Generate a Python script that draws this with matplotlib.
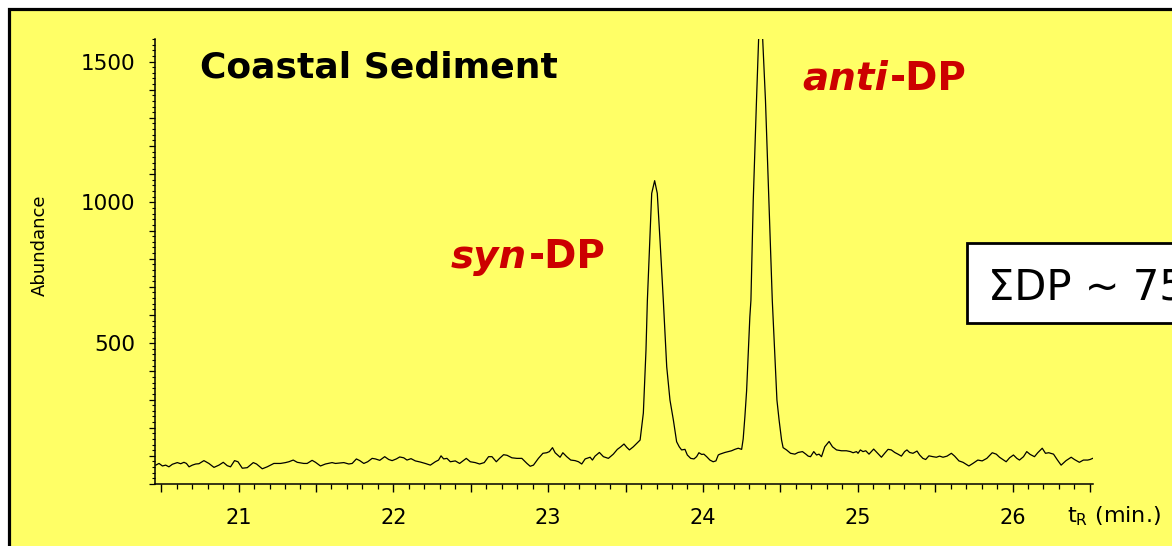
import matplotlib
matplotlib.use("Agg")
import matplotlib.pyplot as plt
from matplotlib.patches import Rectangle
from matplotlib.ticker import MultipleLocator, FuncFormatter

# GC-MS trace: retention time (min) vs abundance
rt_min = [
    # baseline 20.5 - 21.6
    20.465, 20.486, 20.508, 20.529, 20.550, 20.572, 20.604, 20.626, 20.647, 20.663,
    20.680, 20.701, 20.723, 20.744, 20.776, 20.808, 20.841, 20.873, 20.901, 20.927,
    20.948, 20.974, 20.996, 21.024, 21.056, 21.095, 21.116, 21.153, 21.185, 21.228,
    21.271, 21.303, 21.325, 21.353, 21.379, 21.421, 21.443, 21.475, 21.497, 21.529,
    21.561, 21.604, 21.626,
    # baseline 21.6 - 22.9
    21.658, 21.680, 21.712, 21.734, 21.761, 21.783, 21.809, 21.834, 21.863, 21.884,
    21.912, 21.944, 21.970, 21.992, 22.019, 22.041, 22.067, 22.088, 22.114, 22.142,
    22.174, 22.206, 22.239, 22.271, 22.292, 22.308, 22.325, 22.346, 22.368, 22.400,
    22.428, 22.450, 22.471, 22.497, 22.529, 22.557, 22.587, 22.615, 22.637, 22.665,
    22.686, 22.712, 22.734, 22.766, 22.798, 22.830, 22.863,
    # baseline 22.9 - 23.6
    22.884, 22.905, 22.937, 22.966, 22.991, 23.008, 23.028, 23.045, 23.077, 23.095,
    23.120, 23.146, 23.174, 23.196, 23.217, 23.239, 23.271, 23.286, 23.303, 23.331,
    23.357, 23.389, 23.421, 23.447, 23.469, 23.490, 23.508, 23.525, 23.550, 23.572,
    23.594,
    # syn-DP
    23.615, 23.632, 23.641, 23.658, 23.669, 23.688, 23.705, 23.723, 23.744, 23.766,
    23.787, 23.809, 23.830, 23.847, 23.862,
    # between peaks
    23.884, 23.899, 23.921, 23.942, 23.959, 23.974, 23.992, 24.006, 24.024, 24.045,
    24.066, 24.084, 24.099, 24.110, 24.142, 24.163, 24.185, 24.206, 24.228, 24.250,
    # anti-DP
    24.260, 24.271, 24.282, 24.303, 24.310, 24.325, 24.346, 24.371, 24.404, 24.426,
    24.448, 24.478, 24.492, 24.508, 24.518,
    # baseline 24.5 - 25.3
    24.540, 24.566, 24.594, 24.615, 24.643, 24.665, 24.680, 24.695, 24.716, 24.734,
    24.750, 24.766, 24.787, 24.815, 24.837, 24.863, 24.895, 24.927, 24.953, 24.970,
    24.992, 25.002, 25.017, 25.034, 25.052, 25.073, 25.103, 25.125, 25.153, 25.174,
    25.196, 25.217, 25.239, 25.260, 25.282, 25.303, 25.318,
    # baseline 25.3 - 26.5
    25.335, 25.357, 25.383, 25.400, 25.421, 25.439, 25.460, 25.486, 25.508, 25.529,
    25.551, 25.577, 25.605, 25.626, 25.654, 25.680, 25.718, 25.744, 25.776, 25.804,
    25.834, 25.869, 25.895, 25.916, 25.937, 25.959, 25.981, 26.006, 26.028, 26.045,
    26.071, 26.092, 26.114, 26.142, 26.163, 26.192, 26.213, 26.234, 26.265, 26.288,
    26.314, 26.346, 26.379, 26.400, 26.432, 26.458, 26.486, 26.501, 26.518,
]

abundance = [
    67, 73, 64, 67, 61, 70, 76, 72, 77, 73,
    61, 67, 71, 72, 83, 73, 59, 67, 77, 65,
    61, 83, 79, 56, 58, 76, 71, 54, 61, 73,
    73, 76, 79, 85, 77, 73, 73, 84, 77, 64,
    71, 76, 73,
    75, 76, 71, 73, 89, 83, 73, 79, 91, 89,
    84, 97, 87, 83, 89, 96, 93, 85, 90, 82,
    78, 73, 67, 79, 85, 100, 89, 91, 79, 82,
    73, 82, 91, 79, 76, 71, 76, 97, 97, 79,
    91, 104, 102, 93, 91, 91, 73,
    63, 67, 91, 109, 111, 115, 129, 111, 95, 111,
    97, 85, 83, 79, 71, 89, 95, 85, 99, 112,
    97, 91, 106, 123, 132, 142, 130, 121, 132, 144,
    156,
    252, 475, 652, 885, 1032, 1077, 1032, 862, 652, 416,
    298, 227, 150, 132, 121,
    123, 103, 91, 89, 97, 111, 105, 106, 97, 85,
    79, 82, 103, 106, 112, 115, 118, 123, 127, 123,
    160, 239, 330, 593, 652, 1007, 1362, 1760, 1362, 1007,
    652, 298, 227, 156, 129,
    121, 109, 106, 112, 115, 106, 99, 97, 115, 103,
    106, 97, 132, 151, 132, 121, 118, 118, 115, 111,
    115, 109, 121, 115, 118, 106, 124, 111, 95, 109,
    123, 121, 112, 106, 99, 115, 121,
    112, 109, 117, 103, 91, 87, 100, 97, 95, 99,
    95, 99, 109, 99, 82, 77, 64, 73, 85, 82,
    91, 111, 106, 95, 87, 79, 93, 103, 91, 85,
    97, 115, 105, 97, 111, 127, 109, 111, 106, 87,
    67, 83, 95, 87, 77, 85, 85, 87, 91,
]

y_labels = [500, 1000, 1500]
x_labels = [21, 22, 23, 24, 25, 26]

W, H = 1172, 546
YELLOW = "#FFFF66"
RED = "#CC0000"


def fx(x):
    return x / W


def fy(y):
    return 1 - y / H


fig = plt.figure(figsize=(W / 100, H / 100), dpi=100, facecolor="white")

# yellow slide panel with black border, kept behind the axes
fig.patches.append(Rectangle((fx(9), fy(600)), fx(1300), fy(9) - fy(600),
                             transform=fig.transFigure, facecolor=YELLOW,
                             edgecolor="black", linewidth=2.3, zorder=-5))

ax = fig.add_axes([fx(155), fy(484), fx(1093) - fx(155), fy(39) - fy(484)])
ax.patch.set_alpha(0)
ax.plot(rt_min, abundance, color="black", linewidth=0.9)

ax.set_xlim(20.46, 26.52)
ax.set_ylim(0, 1580)
for s in ["top", "right"]:
    ax.spines[s].set_visible(False)
for s in ["left", "bottom"]:
    ax.spines[s].set_linewidth(1.1)

ax.xaxis.set_major_locator(MultipleLocator(0.5))
ax.xaxis.set_minor_locator(MultipleLocator(0.1))
ax.xaxis.set_major_formatter(FuncFormatter(
    lambda v, p: str(int(round(v))) if round(v) in x_labels and abs(v - round(v)) < 1e-6 else ""))
ax.yaxis.set_major_locator(MultipleLocator(100))
ax.yaxis.set_minor_locator(MultipleLocator(20))
ax.yaxis.set_major_formatter(FuncFormatter(
    lambda v, p: str(int(round(v))) if int(round(v)) in y_labels else ""))

ax.tick_params(axis="x", which="major", direction="out", length=6, width=1,
               pad=11, labelsize=15)
ax.tick_params(axis="x", which="minor", direction="out", length=3.5, width=0.9)
ax.tick_params(axis="y", which="major", direction="out", length=4, width=0.9,
               pad=10, labelsize=15.5)
ax.tick_params(axis="y", which="minor", direction="out", length=2, width=0.8)

ax.set_ylabel("Abundance", fontsize=13)
ax.yaxis.set_label_coords(-0.113, 0.537)

fig.text(fx(1114), fy(516), r"t$_\mathrm{R}$ (min.)", fontsize=16,
         ha="center", va="center")

fig.text(fx(200), fy(78), "Coastal Sediment", fontsize=26, fontweight="bold",
         ha="left", va="baseline")

# peak labels
fig.text(fx(888), fy(90), "anti", fontsize=28, fontweight="bold", style="italic",
         color=RED, ha="right", va="baseline")
fig.text(fx(890), fy(90), "-DP", fontsize=28, fontweight="bold",
         color=RED, ha="left", va="baseline")
fig.text(fx(527), fy(268), "syn", fontsize=28, fontweight="bold", style="italic",
         color=RED, ha="right", va="baseline")
fig.text(fx(529), fy(268), "-DP", fontsize=28, fontweight="bold",
         color=RED, ha="left", va="baseline")

# total DP box
fig.patches.append(Rectangle((fx(967), fy(323)), fx(400), fy(243) - fy(323),
                             transform=fig.transFigure, facecolor="white",
                             edgecolor="black", linewidth=2, zorder=3))
fig.text(fx(988), fy(300), "\u03a3DP ~ 75", fontsize=30, ha="left",
         va="baseline", zorder=4)

fig.savefig("out.png", dpi=100)
